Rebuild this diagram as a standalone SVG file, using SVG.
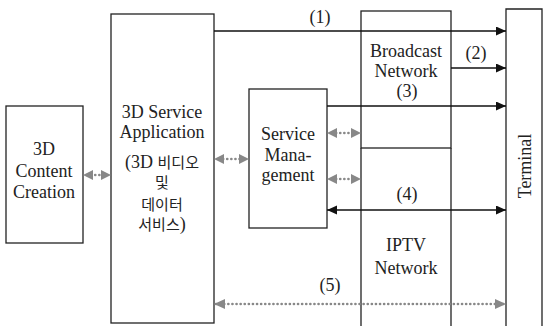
<svg xmlns="http://www.w3.org/2000/svg" width="553" height="326" viewBox="0 0 553 326">
<style>
.box{fill:#fff;stroke:#222;stroke-width:1.3}
.open{fill:none;stroke:#222;stroke-width:1.3}
text{font-family:"Liberation Serif","Times New Roman","DejaVu Serif",serif;font-size:18px;fill:#222;text-anchor:middle}
.ko{font-family:"Noto Sans CJK KR",sans-serif;font-size:15px}
.blk{stroke:#111;stroke-width:1.5;fill:none}
.gry{stroke:#888;stroke-width:2.6;fill:none;stroke-dasharray:0.1 4;stroke-linecap:round}
</style>
<defs>
<marker id="ab" markerUnits="userSpaceOnUse" markerWidth="11" markerHeight="10" refX="10" refY="4.5" orient="auto-start-reverse"><path d="M0,0 L10,4.5 L0,9 z" fill="#111"/></marker>
</defs>
<rect width="553" height="326" fill="#fff"/>
<g id="content-creation">
<rect class="box" x="6" y="106" width="77" height="137"/>
<text x="44" y="155">3D</text>
<text x="44" y="177">Content</text>
<text x="44" y="198">Creation</text>
</g>
<g id="service-application">
<rect class="box" x="111" y="14" width="103" height="309"/>
<text x="162" y="118">3D Service</text>
<text x="162" y="138">Application</text>
<text x="162" y="168">(3D <tspan class="ko">비디오</tspan></text>
<text x="162" y="188" class="ko">및</text>
<text x="162" y="210" class="ko">데이터</text>
<text x="162" y="230"><tspan class="ko">서비스</tspan>)</text>
</g>
<g id="service-management">
<rect class="box" x="249" y="89" width="78" height="139"/>
<text x="288" y="140">Service</text>
<text x="288" y="161">Mana-</text>
<text x="288" y="181">gement</text>
</g>
<g id="broadcast-network">
<rect class="open" x="361" y="11" width="90" height="137"/>
<text x="406" y="57">Broadcast</text>
<text x="406" y="77">Network</text>
</g>
<g id="iptv-network">
<path class="open" d="M361,148 V327 M451,148 V327"/>
<text x="406" y="251">IPTV</text>
<text x="406" y="274">Network</text>
</g>
<g id="terminal">
<path class="open" d="M506,327 V9 H542 V327"/>
<text transform="translate(531,166) rotate(-90)">Terminal</text>
</g>
<g id="connectors">
<path class="blk" d="M214,31 H506" marker-end="url(#ab)"/>
<text x="320" y="23">(1)</text>
<path class="blk" d="M451,68 H506" marker-end="url(#ab)"/>
<text x="476" y="59">(2)</text>
<path class="blk" d="M327,106 H506" marker-end="url(#ab)"/>
<text x="407" y="97">(3)</text>
<path class="blk" d="M327,210 H506" marker-start="url(#ab)" marker-end="url(#ab)"/>
<text x="407" y="200">(4)</text>
<path class="gry" d="M216,304 H504"/>
<text x="330" y="291">(5)</text>
<path class="gry" d="M87,175 H107"/>
<path d="M83,175 L93,170 L93,180 z M111,175 L101,170 L101,180 z" fill="#888"/>
<path class="gry" d="M219,159 H244"/>
<path d="M214,159 L224,154 L224,164 z M249,159 L239,154 L239,164 z" fill="#888"/>
<path class="gry" d="M332,133 H356"/>
<path d="M327,133 L337,128 L337,138 z M361,133 L351,128 L351,138 z" fill="#888"/>
<path class="gry" d="M332,179 H356"/>
<path d="M327,179 L337,174 L337,184 z M361,179 L351,174 L351,184 z" fill="#888"/>
<path d="M214,304 L225,299 L225,309 z M506,304 L495,299 L495,309 z" fill="#888"/>
</g>
</svg>
